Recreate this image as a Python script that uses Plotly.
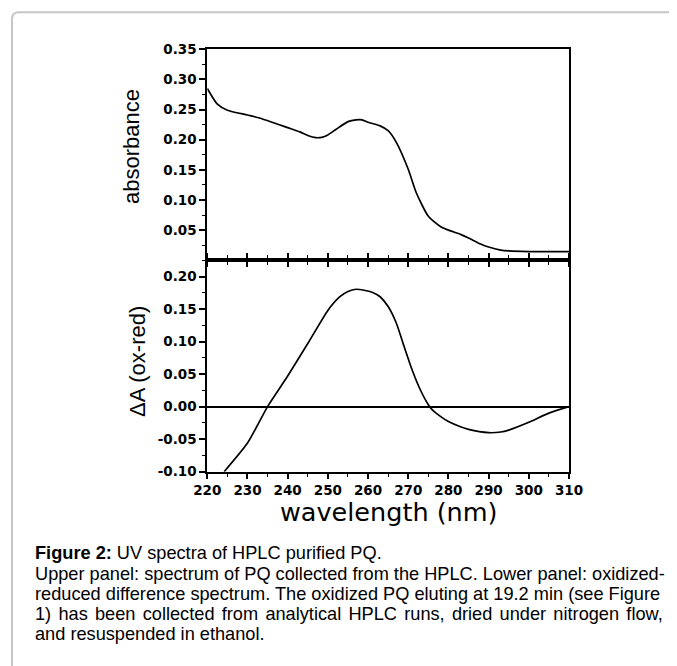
import plotly.graph_objects as go

# The page body has an 8px margin, so the figure is drawn 8px in from the window edge.
OFF = 8
W, H = 677 - OFF, 666 - OFF

# Upper panel: absorbance spectrum
wl_abs = [220, 222.5, 225, 230, 233, 240, 243, 245, 247, 248.5, 250, 252, 255, 257, 258.5, 260,
          263, 265, 267, 270, 272, 275, 278, 280, 283, 285, 288, 290, 293, 295, 300, 305, 310]
absorbance = [0.285, 0.259, 0.249, 0.241, 0.236, 0.220, 0.213, 0.207, 0.2035, 0.204, 0.208,
              0.217, 0.230, 0.233, 0.233, 0.229, 0.223, 0.215, 0.196, 0.151, 0.112, 0.073, 0.056,
              0.050, 0.043, 0.037, 0.027, 0.022, 0.017, 0.0155, 0.0145, 0.0145, 0.0145]

# Lower panel: oxidized-reduced difference spectrum
wl_diff = [224.2, 230, 235, 240, 245, 250, 253, 255, 257, 259, 261, 263, 265, 267, 269, 271, 273,
           275, 276, 278, 280, 283, 285, 290, 293, 295, 300, 305, 310]
delta_a = [-0.100, -0.056, 0.000, 0.047, 0.097, 0.148, 0.169, 0.177, 0.1805, 0.179, 0.176, 0.169,
           0.154, 0.129, 0.092, 0.056, 0.026, 0.003, -0.005, -0.015, -0.023, -0.031, -0.035,
           -0.040, -0.039, -0.036, -0.024, -0.010, 0.000]

abs_ticks = [0.05, 0.10, 0.15, 0.20, 0.25, 0.30, 0.35]
diff_ticks = [-0.10, -0.05, 0.00, 0.05, 0.10, 0.15, 0.20]
x_ticks = [220, 230, 240, 250, 260, 270, 280, 290, 300, 310]

caption_lines = [
    "<b>Figure 2:</b> UV spectra of HPLC purified PQ.",
    "Upper panel: spectrum of PQ collected from the HPLC. Lower panel: oxidized-",
    "reduced difference spectrum. The oxidized PQ eluting at 19.2 min (see Figure",
    '<span style="word-spacing:2.2px">1) has been collected from analytical HPLC runs, '
    'dried under nitrogen flow,</span>',
    "and resuspended in ethanol.",
]

def px_x(p):
    return (p - OFF) / W

def px_y(p):
    return 1 - (p - OFF) / H

xdom = [px_x(207.3), px_x(569.0)]
top_dom = [px_y(260.3), px_y(49.3)]
bot_dom = [px_y(471.7), px_y(260.3)]

fig = go.Figure()
fig.add_trace(go.Scatter(x=wl_abs, y=absorbance, mode="lines", xaxis="x", yaxis="y",
                         line=dict(color="black", width=1.7, shape="spline", smoothing=0.6),
                         showlegend=False, hoverinfo="skip"))
fig.add_trace(go.Scatter(x=wl_diff, y=delta_a, mode="lines", xaxis="x2", yaxis="y2",
                         line=dict(color="black", width=1.7, shape="spline", smoothing=0.6),
                         showlegend=False, hoverinfo="skip"))

tickfont = dict(family="DejaVu Sans", size=13.5, color="black", weight="bold")

common_x = dict(range=[220, 310], domain=xdom, showgrid=False, zeroline=False,
                showline=True, linecolor="black", linewidth=2,
                ticks="outside", ticklen=5, tickwidth=1.6, tickcolor="black",
                tickvals=x_ticks,
                minor=dict(dtick=5, tick0=220, ticks="outside", ticklen=3, tickwidth=1.4,
                           tickcolor="black", showgrid=False),
                automargin=False, fixedrange=True)

fig.update_layout(
    width=W, height=H,
    margin=dict(l=0, r=0, t=0, b=0),
    paper_bgcolor="white", plot_bgcolor="white",
    xaxis=dict(**common_x, anchor="y", mirror=True, showticklabels=False),
    xaxis2=dict(**common_x, anchor="y2", mirror="ticks", showticklabels=True,
                tickfont=tickfont, ticktext=[str(v) for v in x_ticks]),
    yaxis=dict(domain=top_dom, range=[0, 0.35], anchor="x", showgrid=False, zeroline=False,
               showline=True, linecolor="black", linewidth=2, mirror=True,
               ticks="outside", ticklen=6, tickwidth=1.6, tickcolor="black",
               tickvals=abs_ticks, ticktext=[f"{v:.2f}" for v in abs_ticks], tickfont=tickfont,
               minor=dict(dtick=0.025, tick0=0, ticks="outside", ticklen=3, tickwidth=1.4,
                          tickcolor="black", showgrid=False),
               automargin=False, fixedrange=True),
    yaxis2=dict(domain=bot_dom, range=[-0.10, 0.225], anchor="x2", showgrid=False,
                zeroline=True, zerolinecolor="black", zerolinewidth=1.6,
                showline=True, linecolor="black", linewidth=2, mirror=True,
                ticks="outside", ticklen=6, tickwidth=1.6, tickcolor="black",
                tickvals=diff_ticks, ticktext=[f"{v:.2f}" for v in diff_ticks], tickfont=tickfont,
                minor=dict(dtick=0.025, tick0=0, ticks="outside", ticklen=3, tickwidth=1.4,
                           tickcolor="black", showgrid=False),
                automargin=False, fixedrange=True),
)

title_font = dict(family="Liberation Sans, Arial, sans-serif", size=22, color="black")
fig.add_annotation(text="absorbance", x=px_x(131), y=px_y(147), xref="paper", yref="paper",
                   textangle=-90, showarrow=False, font=title_font,
                   xanchor="center", yanchor="middle")
fig.add_annotation(text="ΔA (ox-red)", x=px_x(137), y=px_y(362), xref="paper", yref="paper",
                   textangle=-90, showarrow=False, font=title_font,
                   xanchor="center", yanchor="middle")
fig.add_annotation(text="wavelength (nm)", x=px_x(389), y=px_y(512), xref="paper", yref="paper",
                   showarrow=False, font=dict(family="DejaVu Sans", size=25.5, color="black"),
                   xanchor="center", yanchor="middle")

cap_font = dict(family="Liberation Sans, Arial, sans-serif", size=18.2, color="black")
cap_y = [553, 574, 594, 614, 634]
for line, yy in zip(caption_lines, cap_y):
    fig.add_annotation(text=line, x=px_x(33), y=px_y(yy), xref="paper", yref="paper",
                       showarrow=False, font=cap_font, xanchor="left", yanchor="middle",
                       align="left")

# rounded light-gray frame around the figure card
fig.add_shape(type="path", xref="paper", yref="paper",
              path=(f"M {px_x(12)},{px_y(680)} L {px_x(12)},{px_y(19)} "
                    f"Q {px_x(12)},{px_y(12.3)} {px_x(19)},{px_y(12.3)} L {px_x(690)},{px_y(12.3)}"),
              line=dict(color="#c6c6c6", width=2))

fig.write_html("out.html")
